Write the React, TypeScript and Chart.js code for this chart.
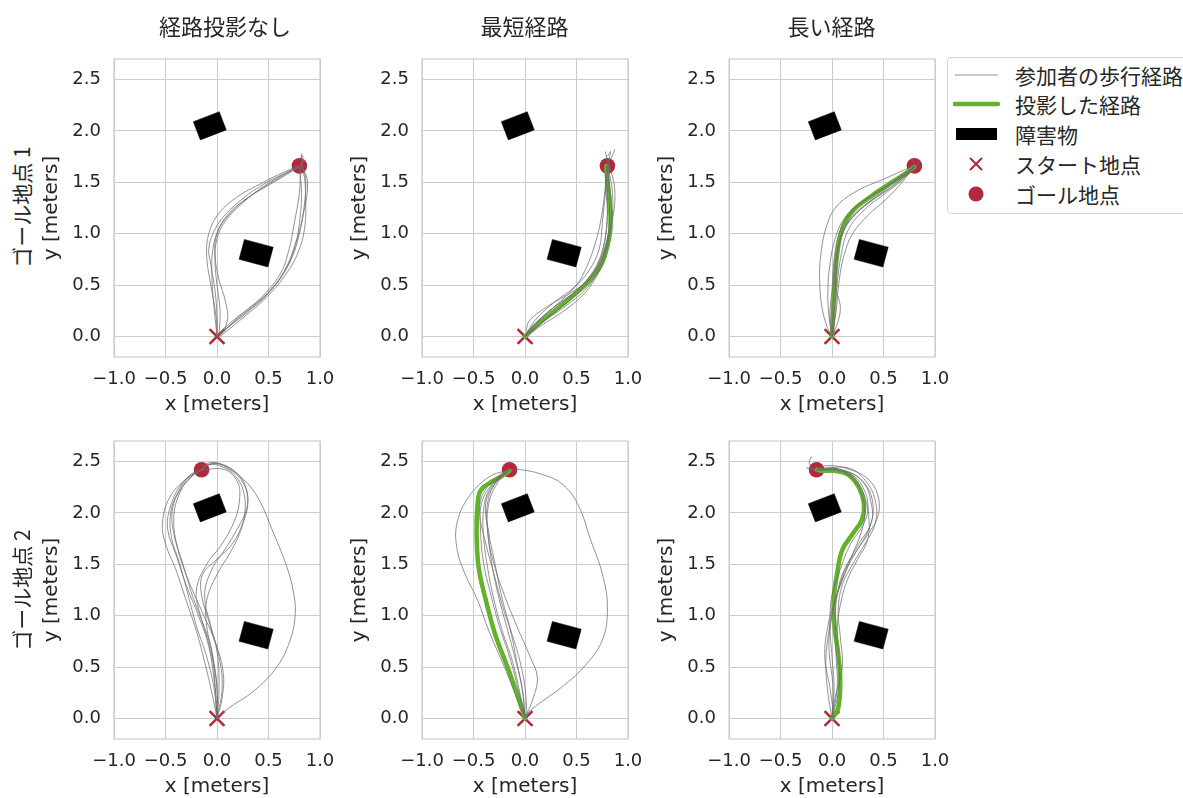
import React, { useEffect, useRef } from 'react';
import { Chart, registerables } from 'chart.js';

Chart.register(...registerables);

// ---------- data ----------
const columnTitles = ['経路投影なし', '最短経路', '長い経路'];
const rowTitles = ['ゴール地点 1', 'ゴール地点 2'];
const xTickValues = [-1, -0.5, 0, 0.5, 1];
const yTickValues = [0, 0.5, 1, 1.5, 2, 2.5];
const xRange = [-1, 1];
const yRange = [-0.2, 2.7];
const xAxisLabel = 'x [meters]';
const yAxisLabel = 'y [meters]';
const startPoint = [0, 0];
const goalPoints = [[0.8, 1.66], [-0.15, 2.42]];
const obstacleCenters = [[-0.07, 2.05], [0.38, 0.81]];
const obstacleSizes = [[0.27, 0.19], [0.29, 0.2]];
const obstacleAngles = [21, -15];
const legendLabels = ['参加者の歩行経路', '投影した経路', '障害物', 'スタート地点', 'ゴール地点'];

// goal 1, no projection
const walksG1None = [
  [[0, 0], [0.0, 0.2], [-0.02, 0.45], [-0.06, 0.7], [-0.08, 0.85], [-0.04, 1.0], [0.05, 1.15], [0.2, 1.3], [0.4, 1.45], [0.6, 1.56], [0.8, 1.65]],
  [[0.02, 0.02], [0.03, 0.25], [0.0, 0.5], [-0.02, 0.75], [0.0, 0.95], [0.08, 1.12], [0.25, 1.3], [0.45, 1.46], [0.65, 1.58], [0.8, 1.66]],
  [[0, 0], [-0.03, 0.3], [-0.05, 0.6], [-0.04, 0.85], [0.02, 1.05], [0.15, 1.22], [0.3, 1.35], [0.5, 1.48], [0.7, 1.6], [0.82, 1.68], [0.83, 1.76], [0.8, 1.72]],
  [[0.02, 0], [0.1, 0.15], [0.08, 0.35], [0.02, 0.55], [-0.02, 0.8], [0.0, 1.0], [0.1, 1.18], [0.3, 1.35], [0.55, 1.5], [0.8, 1.65]],
  [[0, 0], [-0.01, 0.2], [-0.06, 0.5], [-0.1, 0.78], [-0.08, 1.0], [0.02, 1.2], [0.2, 1.36], [0.45, 1.5], [0.65, 1.6], [0.79, 1.66]],
  [[0, 0], [0.15, 0.15], [0.35, 0.3], [0.52, 0.45], [0.65, 0.62], [0.75, 0.85], [0.8, 1.1], [0.82, 1.4], [0.8, 1.65]],
  [[0, 0], [0.2, 0.17], [0.42, 0.35], [0.6, 0.55], [0.72, 0.75], [0.8, 1.0], [0.85, 1.3], [0.86, 1.55], [0.82, 1.67], [0.85, 1.72]],
  [[0.02, 0], [0.22, 0.2], [0.45, 0.4], [0.62, 0.62], [0.7, 0.85], [0.75, 1.1], [0.8, 1.4], [0.81, 1.65]],
  [[0, 0.02], [0.12, 0.1], [0.3, 0.24], [0.5, 0.42], [0.66, 0.65], [0.76, 0.9], [0.84, 1.2], [0.88, 1.5], [0.83, 1.66], [0.82, 1.78]],
  [[0.03, 0], [0.25, 0.18], [0.48, 0.38], [0.65, 0.58], [0.78, 0.8], [0.85, 1.05], [0.86, 1.35], [0.84, 1.6], [0.8, 1.66]],
];

// goal 1, shortest path
const walksG1Short = [
  [[0, 0], [0.14, 0.12], [0.33, 0.27], [0.52, 0.43], [0.66, 0.6], [0.76, 0.78], [0.81, 1.0], [0.82, 1.3], [0.8, 1.66]],
  [[0, 0], [0.12, 0.14], [0.3, 0.3], [0.5, 0.45], [0.64, 0.6], [0.74, 0.8], [0.79, 1.05], [0.8, 1.35], [0.79, 1.66]],
  [[0.02, 0.02], [0.2, 0.16], [0.4, 0.3], [0.58, 0.45], [0.7, 0.62], [0.78, 0.85], [0.84, 1.1], [0.85, 1.4], [0.81, 1.66], [0.83, 1.8], [0.8, 1.75]],
  [[0, 0], [0.1, 0.16], [0.28, 0.33], [0.48, 0.48], [0.62, 0.64], [0.72, 0.85], [0.75, 1.1], [0.78, 1.4], [0.8, 1.65]],
  [[0, 0], [0.05, 0.08], [0.25, 0.26], [0.45, 0.4], [0.6, 0.55], [0.72, 0.72], [0.8, 0.95], [0.86, 1.2], [0.87, 1.45], [0.82, 1.66]],
  [[0.01, 0.05], [0.04, 0.15], [0.2, 0.28], [0.4, 0.4], [0.58, 0.52], [0.7, 0.68], [0.77, 0.9], [0.8, 1.2], [0.78, 1.5], [0.8, 1.67], [0.78, 1.8]],
  [[0, 0], [0.18, 0.12], [0.38, 0.25], [0.56, 0.4], [0.68, 0.56], [0.77, 0.75], [0.82, 0.98], [0.84, 1.25], [0.82, 1.5], [0.8, 1.66]],
  [[0, 0], [0.13, 0.15], [0.32, 0.32], [0.5, 0.5], [0.6, 0.68], [0.68, 0.9], [0.74, 1.15], [0.78, 1.45], [0.8, 1.66], [0.86, 1.78], [0.87, 1.82]],
];
const projG1Short = [[0, 0], [0.15, 0.14], [0.35, 0.3], [0.54, 0.46], [0.66, 0.58], [0.75, 0.72], [0.8, 0.88], [0.83, 1.06], [0.82, 1.32], [0.8, 1.5], [0.79, 1.66]];

// goal 1, long path
const walksG1Long = [
  [[0, 0], [-0.05, 0.1], [-0.1, 0.3], [-0.12, 0.55], [-0.11, 0.78], [-0.06, 1.05], [0.04, 1.26], [0.25, 1.42], [0.5, 1.53], [0.7, 1.62], [0.8, 1.66]],
  [[0, 0], [0.02, 0.25], [0.04, 0.55], [0.06, 0.82], [0.12, 1.04], [0.24, 1.2], [0.4, 1.33], [0.58, 1.46], [0.75, 1.6], [0.8, 1.66]],
  [[0, 0], [0.03, 0.2], [0.05, 0.5], [0.09, 0.8], [0.16, 1.04], [0.3, 1.22], [0.5, 1.38], [0.68, 1.52], [0.8, 1.65]],
  [[0, 0], [0.06, 0.15], [0.08, 0.3], [0.04, 0.45], [0.03, 0.7], [0.08, 0.95], [0.18, 1.15], [0.35, 1.3], [0.56, 1.44], [0.74, 1.58], [0.8, 1.66]],
  [[0.01, 0], [-0.02, 0.2], [0.0, 0.45], [0.02, 0.75], [0.07, 1.0], [0.18, 1.2], [0.34, 1.34], [0.54, 1.47], [0.72, 1.6], [0.82, 1.66], [0.85, 1.72]],
  [[0, 0], [0.01, 0.3], [0.03, 0.6], [0.06, 0.85], [0.14, 1.08], [0.3, 1.26], [0.48, 1.4], [0.66, 1.54], [0.8, 1.64], [0.77, 1.73]],
  [[0, 0], [-0.03, 0.2], [-0.04, 0.45], [-0.02, 0.7], [0.03, 0.95], [0.12, 1.15], [0.28, 1.3], [0.48, 1.43], [0.68, 1.56], [0.8, 1.66]],
  [[0, 0], [0.04, 0.25], [0.07, 0.55], [0.12, 0.8], [0.2, 1.0], [0.35, 1.18], [0.52, 1.33], [0.68, 1.5], [0.79, 1.64]],
];
const projG1Long = [[0, 0], [0.01, 0.25], [0.025, 0.5], [0.05, 0.8], [0.1, 1.05], [0.2, 1.22], [0.36, 1.35], [0.55, 1.48], [0.72, 1.59], [0.8, 1.65]];

// goal 2, no projection
const walksG2None = [
  [[0, 0], [-0.03, 0.3], [-0.1, 0.6], [-0.2, 0.9], [-0.28, 1.2], [-0.36, 1.5], [-0.44, 1.75], [-0.45, 2.0], [-0.38, 2.2], [-0.27, 2.35], [-0.15, 2.42]],
  [[0, 0], [0.0, 0.3], [-0.05, 0.6], [-0.13, 0.9], [-0.24, 1.2], [-0.33, 1.5], [-0.42, 1.8], [-0.43, 2.05], [-0.34, 2.25], [-0.22, 2.38], [-0.15, 2.42]],
  [[0, 0], [-0.05, 0.25], [-0.12, 0.55], [-0.2, 0.85], [-0.3, 1.15], [-0.4, 1.45], [-0.5, 1.7], [-0.53, 1.9], [-0.46, 2.15], [-0.3, 2.33], [-0.15, 2.42]],
  [[0, 0], [0.05, 0.2], [0.06, 0.45], [-0.02, 0.75], [-0.15, 1.05], [-0.28, 1.35], [-0.38, 1.65], [-0.42, 1.95], [-0.36, 2.2], [-0.25, 2.35], [-0.15, 2.42]],
  [[0, 0], [-0.02, 0.3], [-0.08, 0.7], [-0.18, 1.0], [-0.3, 1.3], [-0.4, 1.6], [-0.48, 1.85], [-0.44, 2.1], [-0.33, 2.3], [-0.18, 2.43]],
  [[0, 0], [0.0, 0.3], [-0.04, 0.6], [-0.1, 0.9], [-0.1, 1.15], [0.0, 1.4], [0.12, 1.6], [0.22, 1.8], [0.27, 2.0], [0.26, 2.2], [0.18, 2.36], [0.05, 2.45], [-0.08, 2.47], [-0.15, 2.42]],
  [[0, 0], [0.05, 0.3], [0.02, 0.6], [-0.06, 0.9], [-0.12, 1.2], [-0.05, 1.45], [0.08, 1.65], [0.2, 1.85], [0.29, 2.05], [0.28, 2.25], [0.18, 2.4], [0.02, 2.48], [-0.1, 2.46], [-0.15, 2.42]],
  [[0, 0], [0.02, 0.3], [0.0, 0.65], [-0.08, 0.95], [-0.15, 1.2], [-0.14, 1.4], [0.0, 1.55], [0.15, 1.7], [0.25, 1.9], [0.3, 2.1], [0.25, 2.3], [0.1, 2.44], [-0.05, 2.48], [-0.15, 2.42]],
  [[0, 0], [-0.02, 0.35], [-0.06, 0.7], [-0.16, 1.0], [-0.2, 1.25], [-0.1, 1.5], [0.05, 1.7], [0.18, 1.95], [0.22, 2.15], [0.2, 2.3], [0.08, 2.42], [-0.15, 2.42]],
  [[0, 0], [0.1, 0.09], [0.36, 0.27], [0.58, 0.5], [0.71, 0.76], [0.76, 1.02], [0.74, 1.24], [0.68, 1.47], [0.55, 1.8], [0.39, 2.16], [0.23, 2.35], [0.03, 2.48], [-0.1, 2.48], [-0.15, 2.42]],
];

// goal 2, shortest path
const walksG2Short = [
  [[0, 0], [-0.05, 0.25], [-0.12, 0.55], [-0.22, 0.85], [-0.3, 1.15], [-0.36, 1.45], [-0.4, 1.75], [-0.4, 2.05], [-0.33, 2.25], [-0.15, 2.42]],
  [[0, 0], [-0.03, 0.3], [-0.1, 0.6], [-0.18, 0.9], [-0.26, 1.2], [-0.32, 1.5], [-0.36, 1.8], [-0.37, 2.05], [-0.3, 2.27], [-0.15, 2.42]],
  [[0.02, 0.02], [0.0, 0.3], [-0.06, 0.6], [-0.15, 0.9], [-0.23, 1.2], [-0.29, 1.5], [-0.35, 1.8], [-0.38, 2.1], [-0.28, 2.3], [-0.15, 2.42]],
  [[0, 0], [0.08, 0.2], [0.12, 0.4], [0.05, 0.6], [-0.08, 0.9], [-0.2, 1.2], [-0.3, 1.5], [-0.36, 1.8], [-0.35, 2.1], [-0.25, 2.32], [-0.15, 2.42]],
  [[0, 0], [-0.07, 0.3], [-0.15, 0.6], [-0.25, 0.9], [-0.33, 1.2], [-0.4, 1.5], [-0.43, 1.8], [-0.42, 2.1], [-0.3, 2.3], [-0.15, 2.42]],
  [[0, 0], [-0.02, 0.25], [-0.08, 0.55], [-0.14, 0.85], [-0.22, 1.1], [-0.3, 1.4], [-0.38, 1.7], [-0.44, 2.0], [-0.4, 2.2], [-0.25, 2.36], [-0.15, 2.42]],
  [[-0.15, 2.42], [-0.35, 2.35], [-0.55, 2.15], [-0.66, 1.9], [-0.66, 1.65], [-0.58, 1.4], [-0.46, 1.15], [-0.35, 0.85], [-0.2, 0.5], [-0.08, 0.2], [0, 0]],
  [[0, 0], [0.055, 0.08], [0.35, 0.3], [0.57, 0.5], [0.75, 0.76], [0.8, 1.08], [0.75, 1.41], [0.64, 1.73], [0.51, 2.09], [0.35, 2.29], [0.15, 2.38], [-0.04, 2.42], [-0.15, 2.42]],
];
const projG2Short = [[0, 0], [-0.075, 0.23], [-0.17, 0.5], [-0.29, 0.82], [-0.38, 1.15], [-0.45, 1.47], [-0.47, 1.8], [-0.46, 2.09], [-0.43, 2.22], [-0.33, 2.3], [-0.24, 2.35], [-0.15, 2.41]];

// goal 2, long path
const walksG2Long = [
  [[0, 0], [0.02, 0.3], [0.0, 0.6], [-0.02, 0.9], [0.0, 1.2], [0.08, 1.45], [0.18, 1.7], [0.3, 1.88], [0.35, 2.05], [0.3, 2.25], [0.18, 2.38], [0.0, 2.43], [-0.15, 2.42]],
  [[0, 0], [0.05, 0.3], [0.04, 0.6], [0.03, 0.9], [0.05, 1.2], [0.12, 1.45], [0.25, 1.65], [0.36, 1.85], [0.4, 2.05], [0.33, 2.27], [0.15, 2.4], [-0.15, 2.42]],
  [[0, 0], [-0.04, 0.25], [-0.06, 0.55], [-0.03, 0.85], [0.02, 1.1], [0.1, 1.35], [0.22, 1.6], [0.34, 1.78], [0.44, 1.95], [0.45, 2.15], [0.35, 2.33], [0.15, 2.43], [-0.05, 2.46], [-0.15, 2.42]],
  [[0, 0], [0.06, 0.25], [0.07, 0.55], [0.05, 0.85], [0.08, 1.1], [0.15, 1.35], [0.25, 1.55], [0.34, 1.72], [0.36, 1.92], [0.32, 2.15], [0.22, 2.33], [0.05, 2.42], [-0.15, 2.42], [-0.22, 2.48], [-0.2, 2.55]],
  [[0.02, 0], [-0.02, 0.3], [-0.07, 0.6], [-0.04, 0.9], [0.03, 1.15], [0.12, 1.4], [0.2, 1.6], [0.28, 1.8], [0.32, 2.0], [0.28, 2.2], [0.18, 2.35], [0.02, 2.44], [-0.15, 2.42]],
  [[0, 0], [0.03, 0.2], [0.1, 0.5], [0.08, 0.8], [0.06, 1.05], [0.1, 1.3], [0.2, 1.5], [0.32, 1.7], [0.42, 1.9], [0.42, 2.12], [0.32, 2.32], [0.15, 2.44], [-0.15, 2.42], [-0.25, 2.44]],
  [[0, 0], [0.01, 0.3], [-0.03, 0.7], [0.0, 1.0], [0.06, 1.25], [0.15, 1.5], [0.26, 1.7], [0.38, 1.9], [0.38, 2.1], [0.3, 2.3], [0.1, 2.42], [-0.15, 2.42]],
];
const projG2Long = [[0, 0], [0.06, 0.1], [0.08, 0.36], [0.065, 0.59], [0.026, 0.89], [0.016, 1.15], [0.05, 1.41], [0.1, 1.64], [0.21, 1.81], [0.29, 1.93], [0.31, 2.09], [0.26, 2.25], [0.16, 2.37], [0.03, 2.41], [-0.08, 2.41], [-0.15, 2.42]];

// ---------- styling / layout ----------
const FONT = "'DejaVu Sans', 'Noto Sans CJK JP', sans-serif";
const CJK_FONT = "'Noto Sans CJK JP', 'DejaVu Sans', sans-serif";
const GRAY = 'rgba(110,110,110,0.75)';
const GREEN = '#62b22b';
const RED = '#b3283c';
const GRID = '#cccccc';
const TEXT = '#262626';

const COL_LEFT = [114, 421.6, 728.7];
const ROW_TOP = [58.6, 441.2];
const PLOT_W = 205.8;
const PLOT_H = 297.5;
const Y_SCALE_W = 78;
const X_SCALE_H = 64;
const PAD_TOP = 26;
const PAD_RIGHT = 34;
const TITLE_SHIFT = [8, 0, 0];

const panels = [
  { walks: walksG1None, proj: null, goal: 0, row: 0, col: 0 },
  { walks: walksG1Short, proj: projG1Short, goal: 0, row: 0, col: 1 },
  { walks: walksG1Long, proj: projG1Long, goal: 0, row: 0, col: 2 },
  { walks: walksG2None, proj: null, goal: 1, row: 1, col: 0 },
  { walks: walksG2Short, proj: projG2Short, goal: 1, row: 1, col: 1 },
  { walks: walksG2Long, proj: projG2Long, goal: 1, row: 1, col: 2 },
];

const toXY = (pts: number[][]) => pts.map(([x, y]) => ({ x, y }));

function obstaclePolygon(i: number) {
  const [cx, cy] = obstacleCenters[i];
  const [w, h] = obstacleSizes[i];
  const a = (obstacleAngles[i] * Math.PI) / 180;
  const c = [[-w / 2, -h / 2], [w / 2, -h / 2], [w / 2, h / 2], [-w / 2, h / 2], [-w / 2, -h / 2]];
  return c.map(([dx, dy]) => ({ x: cx + dx * Math.cos(a) - dy * Math.sin(a), y: cy + dx * Math.sin(a) + dy * Math.cos(a) }));
}

const fmt = (v: number) => (v < 0 ? '\u2212' : '') + Math.abs(v).toFixed(1);

const framePlugin = {
  id: 'frame',
  beforeDatasetsDraw(chart: any) {
    const { ctx, chartArea: a } = chart;
    ctx.save();
    ctx.strokeStyle = GRID;
    ctx.lineWidth = 1.2;
    ctx.strokeRect(a.left, a.top, a.right - a.left, a.bottom - a.top);
    ctx.restore();
  },
};

function buildChart(canvas: HTMLCanvasElement, p: typeof panels[number]) {
  const datasets: any[] = [];
  obstacleCenters.forEach((_, i) => {
    datasets.push({
      data: obstaclePolygon(i), showLine: true, fill: 'shape', backgroundColor: '#000000',
      borderColor: '#000000', borderWidth: 0.5, pointRadius: 0, tension: 0,
    });
  });
  p.walks.forEach((w) => {
    datasets.push({ data: toXY(w), showLine: true, borderColor: GRAY, borderWidth: 1, pointRadius: 0, tension: 0.4, fill: false });
  });
  if (p.proj) {
    datasets.push({ data: toXY(p.proj), showLine: true, borderColor: GREEN, borderWidth: 4.5, pointRadius: 0, tension: 0.4, fill: false, borderCapStyle: 'round' });
  }
  datasets.push({ data: [{ x: startPoint[0], y: startPoint[1] }], showLine: false, pointStyle: 'crossRot', pointRadius: 10.5, borderColor: RED, borderWidth: 2.5, backgroundColor: RED });
  datasets.push({ data: [{ x: goalPoints[p.goal][0], y: goalPoints[p.goal][1] }], showLine: false, pointStyle: 'circle', pointRadius: 7.8, borderWidth: 0, backgroundColor: RED });

  const tickFont = { family: FONT, size: 18 };
  const labelFont = { family: FONT, size: 20 };
  return new Chart(canvas, {
    type: 'scatter',
    data: { datasets },
    options: {
      animation: false,
      responsive: false,
      maintainAspectRatio: false,
      events: [],
      layout: { padding: { top: PAD_TOP, right: PAD_RIGHT, left: 0, bottom: 0 } },
      plugins: { legend: { display: false }, tooltip: { enabled: false } },
      scales: {
        x: {
          type: 'linear', min: xRange[0], max: xRange[1],
          afterBuildTicks: (s: any) => { s.ticks = xTickValues.map((v) => ({ value: v })); },
          afterFit: (s: any) => { s.height = X_SCALE_H; },
          ticks: { callback: (v: any) => fmt(Number(v)), font: tickFont, color: TEXT, padding: 12, maxRotation: 0, autoSkip: false },
          grid: { color: GRID, lineWidth: 1, drawTicks: false },
          border: { display: false },
          title: { display: true, text: xAxisLabel, font: labelFont, color: TEXT, padding: { top: 0, bottom: 4 } },
        },
        y: {
          type: 'linear', min: yRange[0], max: yRange[1],
          afterBuildTicks: (s: any) => { s.ticks = yTickValues.map((v) => ({ value: v })); },
          afterFit: (s: any) => { s.width = Y_SCALE_W; },
          ticks: { callback: (v: any) => fmt(Number(v)), font: tickFont, color: TEXT, padding: 13, autoSkip: false },
          grid: { color: GRID, lineWidth: 1, drawTicks: false },
          border: { display: false },
          title: { display: true, text: yAxisLabel, font: labelFont, color: TEXT, padding: { top: 4, bottom: 0 } },
        },
      },
    },
    plugins: [framePlugin],
  } as any);
}

function Panel({ p }: { p: typeof panels[number] }) {
  const ref = useRef<HTMLCanvasElement>(null);
  useEffect(() => {
    const chart = buildChart(ref.current!, p);
    return () => chart.destroy();
  }, []);
  const left = COL_LEFT[p.col] - Y_SCALE_W;
  const top = ROW_TOP[p.row] - PAD_TOP;
  const w = Math.round(Y_SCALE_W + PLOT_W + PAD_RIGHT);
  const h = Math.round(PAD_TOP + PLOT_H + X_SCALE_H);
  return <canvas ref={ref} width={w} height={h} style={{ position: 'absolute', left, top, width: w, height: h }} />;
}

const legendRowY = [75, 104, 134, 164, 194];

function LegendGlyph({ i }: { i: number }) {
  if (i === 0) return <line x1={2} y1={10} x2={45} y2={10} stroke={GRAY} strokeWidth={1.2} />;
  if (i === 1) return <line x1={2} y1={10} x2={45} y2={10} stroke={GREEN} strokeWidth={4.5} strokeLinecap="round" />;
  if (i === 2) return <rect x={3} y={4} width={41} height={12} fill="#000" />;
  if (i === 3)
    return (
      <g stroke={RED} strokeWidth={2}>
        <line x1={17} y1={4} x2={29} y2={16} />
        <line x1={29} y1={4} x2={17} y2={16} />
      </g>
    );
  return <circle cx={23} cy={10} r={7.5} fill={RED} />;
}

export default function App() {
  return (
    <div style={{ position: 'absolute', left: 0, top: 0, width: 1183, height: 798, overflow: 'hidden', background: '#fff', fontFamily: CJK_FONT, color: TEXT }}>
      {panels.map((p, i) => (
        <Panel key={i} p={p} />
      ))}
      {columnTitles.map((t, c) => (
        <div key={t} style={{ position: 'absolute', left: COL_LEFT[c] + TITLE_SHIFT[c], width: PLOT_W, top: 10, textAlign: 'center', fontSize: 22, lineHeight: '30px', whiteSpace: 'nowrap' }}>{t}</div>
      ))}
      {rowTitles.map((t, r) => (
        <div key={t} style={{ position: 'absolute', left: 21 - 150, top: ROW_TOP[r] + PLOT_H / 2 - 15, width: 300, height: 30, lineHeight: '30px', textAlign: 'center', fontSize: 21, transform: 'rotate(-90deg)', whiteSpace: 'nowrap' }}>{t}</div>
      ))}
      <div style={{ position: 'absolute', left: 947, top: 57, width: 260, height: 155, border: '1px solid #d4d4d4', borderRadius: 4, background: '#fff' }} />
      {legendLabels.map((t, i) => (
        <React.Fragment key={t}>
          <svg width={48} height={20} style={{ position: 'absolute', left: 953, top: legendRowY[i] - 10 }}>
            <LegendGlyph i={i} />
          </svg>
          <div style={{ position: 'absolute', left: 1015, top: legendRowY[i] - 15, height: 30, lineHeight: '30px', fontSize: 21, whiteSpace: 'nowrap' }}>{t}</div>
        </React.Fragment>
      ))}
    </div>
  );
}
